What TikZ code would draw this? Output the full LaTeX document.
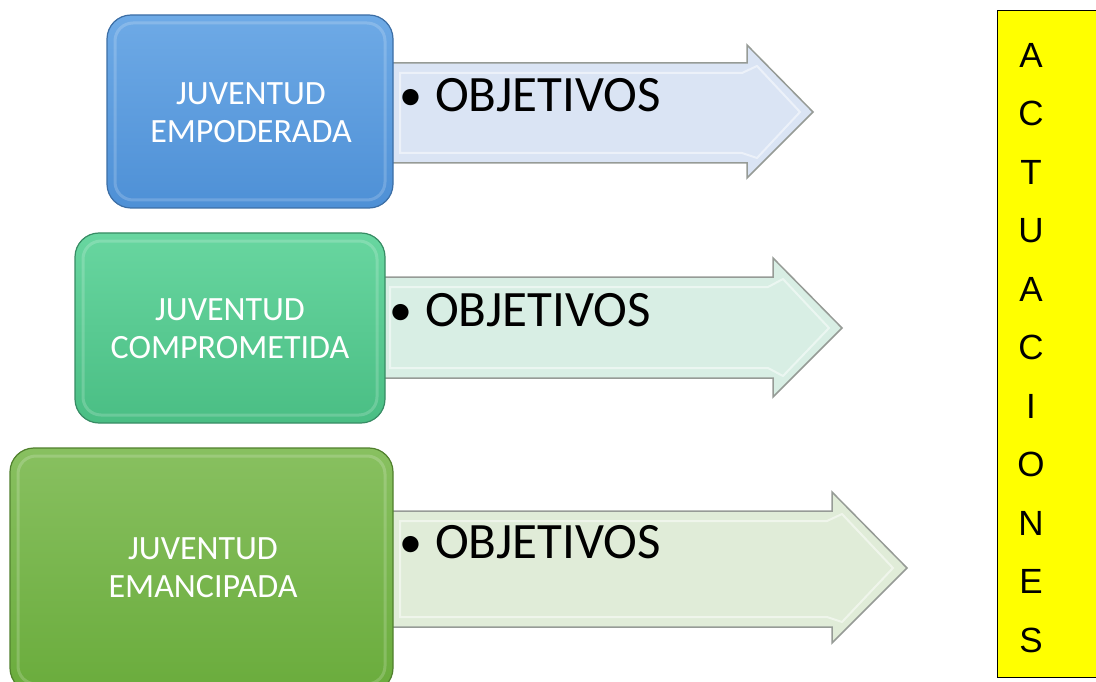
\documentclass[tikz,border=0pt]{standalone}
\usepackage{fontspec}
\setmainfont{Carlito}
\newfontfamily\actfont{Liberation Sans}
\definecolor{blueT}{RGB}{110,170,230}
\definecolor{blueB}{RGB}{78,144,214}
\definecolor{blueD}{RGB}{60,110,165}
\definecolor{tealT}{RGB}{104,214,160}
\definecolor{tealB}{RGB}{74,190,132}
\definecolor{tealD}{RGB}{55,140,100}
\definecolor{grnT}{RGB}{136,192,96}
\definecolor{grnB}{RGB}{106,172,60}
\definecolor{grnD}{RGB}{80,128,45}
\definecolor{arrA}{RGB}{218,228,244}
\definecolor{arrB}{RGB}{216,238,228}
\definecolor{arrC}{RGB}{224,236,216}
\definecolor{arrEdge}{RGB}{150,155,150}
\definecolor{actY}{RGB}{255,255,0}
\tikzset{
  jbox/.style={rounded corners=24pt, line width=1.2pt, inner sep=0pt},
  jtext/.style={text=white, font=\fontsize{34}{38}\selectfont, align=center, inner sep=0pt},
  bevel/.style={rounded corners=18pt, line width=3pt, draw=white, draw opacity=0.18},
  arrowbody/.style={draw=arrEdge, line width=1.5pt, line join=miter},
  arrowbevel/.style={draw=white, draw opacity=0.5, line width=2pt},
  objtext/.style={font=\fontsize{51}{53}\selectfont, anchor=west, inner sep=0pt},
  actletter/.style={font=\actfont\fontsize{35}{35}\selectfont, inner sep=0pt}
}
\newcommand{\objlabel}{{\fontsize{46}{46}\selectfont\raisebox{1pt}{•}}\hspace{13pt}OBJETIVOS}
\begin{document}
\begin{tikzpicture}[x=1pt,y=-1pt]
\useasboundingbox (0,0) rectangle (1096,682);
\clip (0,0) rectangle (1096,682);
% arrows
\draw[arrowbody, fill=arrA] (385,63) -- (747,63) -- (747,45) -- (813,112) -- (747,178) -- (747,163) -- (385,163) -- cycle;
\draw[arrowbevel] (400,73) -- (742,73) -- (757,66) -- (800,112) -- (757,158) -- (742,153) -- (400,153) -- cycle;
\draw[arrowbody, fill=arrB] (375,277) -- (773,277) -- (773,258) -- (842,328) -- (773,397) -- (773,378) -- (375,378) -- cycle;
\draw[arrowbevel] (390,287) -- (768,287) -- (783,279) -- (829,328) -- (783,376) -- (768,368) -- (390,368) -- cycle;
\draw[arrowbody, fill=arrC] (385,511) -- (832,511) -- (832,492) -- (907,568) -- (832,643) -- (832,627) -- (385,627) -- cycle;
\draw[arrowbevel] (400,521) -- (827,521) -- (842,514) -- (893,568) -- (842,622) -- (827,617) -- (400,617) -- cycle;
\node[objtext] (o1) at (399,95) {\objlabel};
\node[objtext] (o2) at (389,310) {\objlabel};
\node[objtext] (o3) at (399,542) {\objlabel};
% boxes
\node[jbox, draw=blueD, top color=blueT, bottom color=blueB, minimum width=286pt, minimum height=193pt] (b1) at (250,111.5) {};
\draw[bevel] (115,23) rectangle (385,200);
\node[jtext] (t1) at (251,113) {JUVENTUD\\EMPODERADA};
\node[jbox, draw=tealD, top color=tealT, bottom color=tealB, minimum width=310pt, minimum height=190pt] (b2) at (230,328) {};
\draw[bevel] (83,241) rectangle (377,415);
\node[jtext] (t2) at (230,329) {JUVENTUD\\COMPROMETIDA};
\node[jbox, draw=grnD, top color=grnT, bottom color=grnB, minimum width=383pt, minimum height=244pt] (b3) at (201.5,570) {};
\draw[bevel] (18,456) rectangle (385,684);
\node[jtext] (t3) at (203,568) {JUVENTUD\\EMANCIPADA};
% actuaciones
\node[draw=black, line width=1.2pt, fill=actY, minimum width=110pt, minimum height=667pt, anchor=north west, inner sep=0pt] (act) at (997,10) {};
\foreach \l [count=\i] in {A,C,T,U,A,C,I,O,N,E,S}{
  \node[actletter] (L\i) at (1031,{55+(\i-1)*58.5}) {\l};
}
\end{tikzpicture}
\end{document}
